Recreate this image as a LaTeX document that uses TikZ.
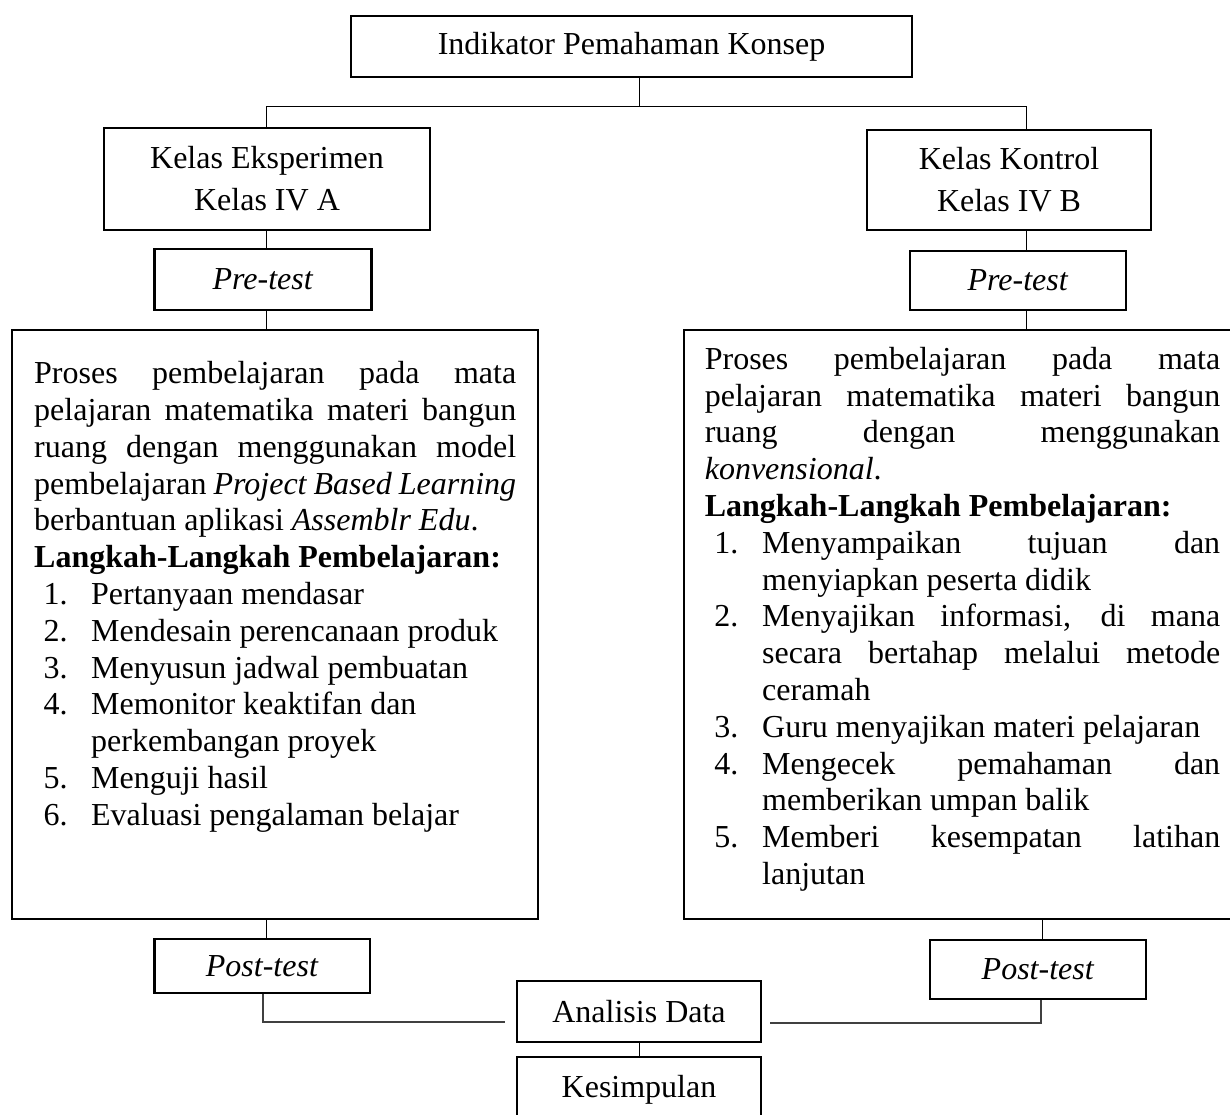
\documentclass[tikz,border=0pt]{standalone}
\usepackage{fontspec}
\setmainfont{Liberation Serif}
\newcommand\myitem[3]{\par\hangindent=#1\hangafter=1\noindent\makebox[#1][l]{\hspace{9.5pt}#2}#3\par}
\newcommand\boxfont{\fontsize{32}{36.8}\selectfont\tolerance=10000\hyphenpenalty=10000\exhyphenpenalty=10000}
\newcommand\raggedbreak{\hfil\penalty-10000\relax}
\begin{document}
\begin{tikzpicture}[x=1pt,y=-1pt,
  box/.style={draw, line width=2.7pt, inner sep=0pt, align=center, font=\fontsize{32}{42}\selectfont},
  conn/.style={line width=1pt},
  lowconn/.style={line width=1.8pt, black!75},
  bodytext/.style={anchor=base west, inner sep=0pt}]
\useasboundingbox (0,0) rectangle (1230,1115);
\clip (0,0) rectangle (1230,1115);

\node[box, minimum width=561pt, minimum height=61pt] (ind) at (631.5,46.5) {Indikator Pemahaman Konsep};
\node[box, minimum width=326pt, minimum height=102pt] (eks) at (267,179) {Kelas Eksperimen\\Kelas IV A};
\node[box, minimum width=284pt, minimum height=100pt] (kon) at (1009,180) {Kelas Kontrol\\Kelas IV B};
\node[box, minimum width=217pt, minimum height=61pt] (preA) at (263,279.5) {\textit{Pre-test}};
\node[box, minimum width=216pt, minimum height=59pt] (preB) at (1018,280.5) {\textit{Pre-test}};
\node[box, minimum width=526pt, minimum height=589pt] (procA) at (275,624.5) {};
\node[box, minimum width=558pt, minimum height=589pt] (procB) at (963,624.5) {};
\node[box, minimum width=215.5pt, minimum height=54pt] (postA) at (262.25,966) {\textit{Post-test}};
\node[box, minimum width=216pt, minimum height=59pt] (postB) at (1038,969.5) {\textit{Post-test}};
\node[box, minimum width=244pt, minimum height=61pt] (ana) at (639,1011.5) {Analisis Data};
\node[box, minimum width=244pt, minimum height=66pt] (kes) at (639,1090) {Kesimpulan};

\node[bodytext] (txtA) at (34,383.6) {\parbox[t]{482pt}{\boxfont
Proses pembelajaran pada mata\linebreak pelajaran matematika materi bangun\linebreak ruang dengan menggunakan model\linebreak pembelajaran \textit{Project Based Learning}\linebreak berbantuan aplikasi \textit{Assemblr Edu}.\par
\noindent\textbf{Langkah-Langkah Pembelajaran:}\par
\myitem{57pt}{1.}{Pertanyaan mendasar}
\myitem{57pt}{2.}{Mendesain perencanaan produk}
\myitem{57pt}{3.}{Menyusun jadwal pembuatan}
\myitem{57pt}{4.}{Memonitor keaktifan dan\raggedbreak perkembangan proyek}
\myitem{57pt}{5.}{Menguji hasil}
\myitem{57pt}{6.}{Evaluasi pengalaman belajar}
}};

\node[bodytext] (txtB) at (704.6,369.3) {\parbox[t]{515.4pt}{\boxfont
Proses pembelajaran pada mata\linebreak pelajaran matematika materi bangun\linebreak ruang dengan menggunakan\linebreak \textit{konvensional}.\par
\noindent\textbf{Langkah-Langkah Pembelajaran:}\par
\myitem{57.4pt}{1.}{Menyampaikan tujuan dan\linebreak menyiapkan peserta didik}
\myitem{57.4pt}{2.}{Menyajikan informasi, di mana\linebreak secara bertahap melalui metode\linebreak ceramah}
\myitem{57.4pt}{3.}{Guru menyajikan materi pelajaran}
\myitem{57.4pt}{4.}{Mengecek pemahaman dan\linebreak memberikan umpan balik}
\myitem{57.4pt}{5.}{Memberi kesempatan latihan\linebreak lanjutan}
}};

\coordinate (jM) at (639,107);
\coordinate (jL) at (266.5,107);
\coordinate (jR) at (1026,107);
\coordinate (jB) at (1042,0);
\coordinate (bL) at (263,1022);
\coordinate (bR) at (1041,1023);

\draw[conn] (ind.south -| jM) -- ([yshift=1pt]jM);
\draw[conn] (eks.north -| jL) |- (jR) -- (kon.north -| jR);
\draw[conn] (eks.south -| jL) -- (preA.north -| jL);
\draw[conn] (preA.south -| jL) -- (procA.north -| jL);
\draw[conn] (kon.south -| jR) -- (preB.north -| jR);
\draw[conn] (preB.south -| jR) -- (procB.north -| jR);
\draw[conn] (procA.south -| jL) -- (postA.north -| jL);
\draw[conn] (procB.south -| jB) -- (postB.north -| jB);
\draw[lowconn] (postA.south -| bL) -- (bL) -- ([xshift=-11pt]ana.west |- bL);
\draw[lowconn] (postB.south -| bR) -- (bR) -- ([xshift=8pt]ana.east |- bR);
\draw[conn] (ana.south) -- (kes.north);
\end{tikzpicture}
\end{document}
